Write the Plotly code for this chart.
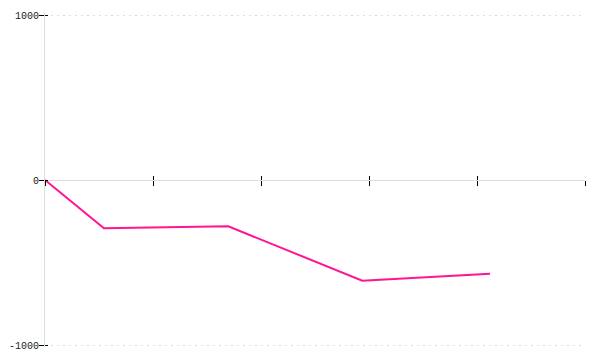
import plotly.graph_objects as go

x_vals = [0, 0.546, 1.697, 2.938, 4.12]
y_vals = [0, -293, -281, -610, -568]
x_ticks = [0, 1, 2, 3, 4, 5]
y_ticks = [-1000, 0, 1000]
y_tick_text = ["-1000", "0", "1000"]

# plot area is 2px taller on each side so edge gridlines are not clipped
pad_px = 2
inner_px = 330
half_span = 1000 * (inner_px + 2 * pad_px) / inner_px
y_range = [-half_span, half_span]

fig = go.Figure()
fig.add_trace(go.Scatter(x=x_vals, y=y_vals, mode="lines",
                         line=dict(color="#ff1493", width=2), hoverinfo="skip"))
fig.add_trace(go.Scatter(x=[], y=[], xaxis="x2", yaxis="y2", showlegend=False))

font = dict(family="Liberation Mono", size=10, color="#222222")

fig.update_layout(
    template="none",
    width=600, height=360,
    margin=dict(l=45, r=15, t=15 - pad_px, b=15 - pad_px),
    paper_bgcolor="white", plot_bgcolor="white",
    showlegend=False,
    xaxis=dict(range=[0, 5], tickvals=x_ticks, showticklabels=False,
               ticks="outside", ticklen=5, tickcolor="black", tickwidth=1,
               showgrid=False, zeroline=False, showline=True, linecolor="#dddddd",
               linewidth=1, anchor="free", position=0.5, automargin=False),
    xaxis2=dict(range=[0, 5], tickvals=x_ticks, showticklabels=False,
                ticks="inside", ticklen=4, tickcolor="black", tickwidth=1,
                showgrid=False, zeroline=False, showline=False,
                overlaying="x", anchor="free", position=0.5, automargin=False),
    yaxis=dict(range=y_range, tickvals=y_ticks, ticktext=y_tick_text,
               ticks="outside", ticklen=5, tickcolor="black", tickwidth=1,
               tickfont=font, ticklabelstandoff=-2,
               showgrid=True, gridcolor="#dddddd", gridwidth=1,
               griddash="2px,4px", zeroline=False, showline=True,
               linecolor="#dddddd", linewidth=1, automargin=False),
    yaxis2=dict(range=y_range, tickvals=y_ticks, showticklabels=False,
                ticks="inside", ticklen=3, tickcolor="black", tickwidth=1,
                showgrid=False, zeroline=False, showline=False,
                overlaying="y", anchor="x", automargin=False),
)

fig.write_html("out.html")
